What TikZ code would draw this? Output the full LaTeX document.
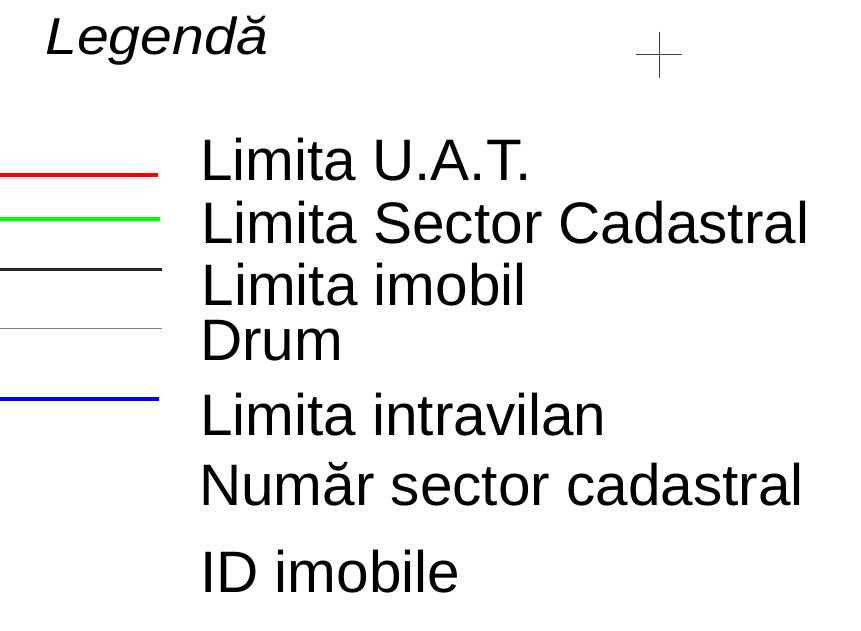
\documentclass[tikz,border=0pt]{standalone}
\usepackage{fontspec}
\setmainfont{Liberation Sans}
\begin{document}
\begin{tikzpicture}[x=1pt,y=-1pt,
  lbl/.style={anchor=base west,inner sep=0pt,font=\fontsize{58.5}{60}\selectfont},
  ttl/.style={anchor=base west,inner sep=0pt,font=\fontsize{52}{54}\selectfont\itshape},
  sample/.style={line width=3.8pt,line cap=butt},
  crossline/.style={draw=black!75,line width=1pt}]
\useasboundingbox (0,0) rectangle (861,631);
\fill[white] (0,0) rectangle (861,631);
% title
\node[ttl] (title) at (45,55) {\scalebox{1.1}[1]{Legendă}};
% cross
\coordinate (cT) at (659.3,31.7);
\coordinate (cB) at (659.3,78.3);
\coordinate (cL) at (636,54.7);
\coordinate (cR) at (682,54.7);
\draw[crossline] (cT) -- (cB);
\draw[crossline] (cL) -- (cR);
% labels
\node[lbl] (l1) at (200,180) {Limita U.A.T.};
\node[lbl] (l2) at (201,243) {Limita Sector Cadastral};
\node[lbl] (l3) at (201.5,305) {Limita imobil};
\node[lbl] (l4) at (200,360) {Drum};
\node[lbl] (l5) at (200,435) {Limita intravilan};
\node[lbl] (l6) at (199,505) {Număr sector cadastral};
\node[lbl] (l7) at (200,592) {ID imobile};
% samples
\coordinate (r0) at (0,174.7);   \coordinate (r1) at (158,174.7);
\coordinate (g0) at (0,219);     \coordinate (g1) at (160,219);
\coordinate (k0) at (0,269.7);   \coordinate (k1) at (162,269.7);
\coordinate (d0) at (0,328.3);   \coordinate (d1) at (162,328.3);
\coordinate (b0) at (0,398.7);   \coordinate (b1) at (159,398.7);
\draw[sample,draw={rgb,255:red,255;green,0;blue,0}] (r0) -- (r1);
\draw[sample,draw={rgb,255:red,0;green,255;blue,0}] (g0) -- (g1);
\draw[line width=2.5pt,draw=black!85] (k0) -- (k1);
\draw[line width=1.6pt,draw=black!50] (d0) -- (d1);
\draw[sample,draw={rgb,255:red,0;green,0;blue,255}] (b0) -- (b1);
\end{tikzpicture}
\end{document}
